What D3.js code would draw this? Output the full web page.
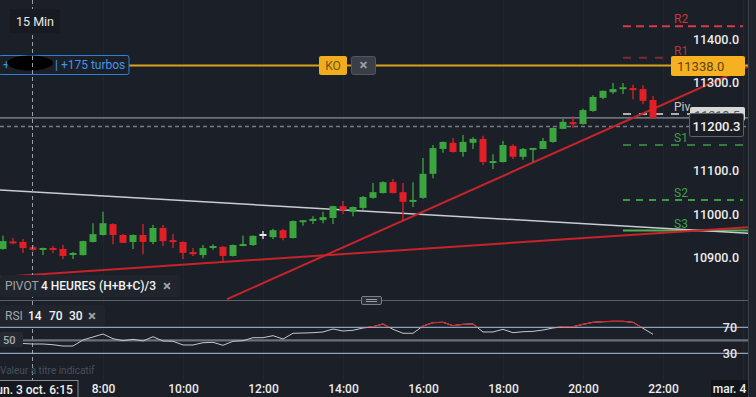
<!DOCTYPE html>
<html><head><meta charset="utf-8">
<script src="https://cdn.jsdelivr.net/npm/d3@7"></script>
<style>
html,body{margin:0;padding:0;background:#1b2028;overflow:hidden}
svg{display:block;font-family:Roboto,"Noto Sans",sans-serif}
</style></head>
<body>
<svg id="c" width="756" height="397"></svg>
<script>
// ---------- DATA ----------
const candleStart = "2022-10-03T05:30";
const candleMinutes = 15;
const open = [10920,10936,10936,10924,10918,10922,10920,10908,10906,10936,
10952,10977,10952,10936,10952,10936,10968,10939,10936,10913,
10906,10924,10925,10904,10927,10929,10952,10947,10963,10945,
10983,10984,10986,10991,11018,11005,11014,11037,11048,11073,
11050,11029,11037,11092,11149,11163,11142,11163,11172,11118,
11119,11156,11131,11148,11149,11165,11195,11209,11206,11236,
11266,11279,11287,11287,11286,11261];
const high = [10950,10945,10943,10929,10923,10927,10929,10913,10939,10979,
11005,10979,10954,10953,10977,10975,10975,10954,10937,10922,
10929,10931,10926,10930,10950,10951,10961,10966,10966,10985,
10986,10995,11005,11019,11030,11017,11041,11071,11075,11080,
11071,11073,11128,11158,11166,11174,11181,11176,11179,11137,
11167,11160,11151,11151,11174,11198,11218,11224,11241,11272,
11283,11300,11300,11296,11295,11270];
const low = [10918,10931,10911,10915,10906,10911,10897,10897,10905,10935,
10951,10931,10933,10920,10908,10931,10927,10922,10897,10904,
10899,10918,10888,10903,10926,10927,10943,10943,10940,10944,
10973,10977,10979,10977,11000,10995,11009,11035,11047,11047,
10984,11016,11035,11082,11140,11141,11131,11149,11112,11103,
11118,11126,11124,11119,11148,11163,11194,11197,11205,11234,
11263,11275,11275,11263,11252,11218];
const close = [10938,10934,10922,10918,10922,10918,10904,10909,10938,10954,
10979,10952,10934,10952,10936,10968,10938,10937,10911,10908,
10922,10925,10904,10929,10931,10950,10952,10963,10945,10984,
10984,10989,10993,11018,11009,11016,11039,11050,11073,11048,
11028,11031,11092,11151,11165,11142,11165,11172,11119,11120,
11158,11131,11149,11150,11167,11197,11211,11207,11238,11268,
11282,11286,11289,11285,11259,11220];
const rsi = [45.4,45.8,45.1,44.3,44.3,43.2,41.2,41.2,50.5,55.1,
59.7,52.5,49.4,51.5,48.9,55.5,48.9,48.5,42.8,42.8,
46.3,46.9,42.3,48.5,49.4,54,54,57.1,52,60.8,
61.2,61.7,62.8,67.4,64.3,65.4,68.9,70.9,75.1,66.9,
60.8,60.8,72,77.1,77.7,72.5,74.6,75.1,62.8,62.8,
66.9,61.7,63.2,63.8,65.8,68.9,70.9,70.9,74.6,77.7,
78.6,79.2,79.2,77.7,68.5,59.2];
const priceTicks = [10900,11000,11100,11200,11300,11400];
const timeTicks = ["2022-10-03T08:00","2022-10-03T10:00","2022-10-03T12:00","2022-10-03T14:00","2022-10-03T16:00","2022-10-03T18:00","2022-10-03T20:00","2022-10-03T22:00"];
const rsiLevels = [70,50,30];
const pivotNames = ["R2","R1","Piv","S1","S2","S3"];
const pivotValues = [11430,11358,11229,11158,11032,10962];
const pivotStart = "2022-10-03T21:00", pivotEnd = "2022-10-04T00:00";
const trendWhite = [["2022-10-03T05:25",11055],["2022-10-04T00:08",10956]];
const trendRedFlat = [["2022-10-03T05:25",10856],["2022-10-04T00:08",10970]];
const trendRedSteep = [["2022-10-03T11:06",10805],["2022-10-04T00:08",11338]];
const koLevel = 11338.0;
const crossPrice = 11200.3;
const crossTime = "2022-10-03T06:15";
const pivLabelValue = 11218.5;

// ---------- SCALES ----------
const svg = d3.select("#c");
const T = s => new Date(s);
const t0 = T(candleStart);
const times = open.map((_, i) => new Date(t0.getTime() + i*candleMinutes*60000));
const x = d3.scaleTime().domain([T("2022-10-03T05:30"), T("2022-10-03T22:00")]).range([3, 663]);
const y = d3.scaleLinear().domain([10900, 11400]).range([257.7, 39.3]);
const yr = d3.scaleLinear().domain([30, 70]).range([353.3, 327.3]);
const W = 748;
const bg = "#1b2028";

svg.append("rect").attr("width",756).attr("height",397).attr("fill",bg);

const defs = svg.append("defs");
defs.append("clipPath").attr("id","main").append("rect").attr("x",0).attr("y",0).attr("width",W).attr("height",300);
defs.append("clipPath").attr("id","ob").append("rect").attr("x",0).attr("y",300).attr("width",W).attr("height",yr(70)-300);

// faint vertical grid
svg.append("g").selectAll("line").data(timeTicks).join("line")
  .attr("x1",d=>x(T(d))+0.5).attr("x2",d=>x(T(d))+0.5).attr("y1",0).attr("y2",380)
  .attr("stroke","#20252e").attr("stroke-width",1);

// right strip
svg.append("rect").attr("x",W).attr("y",0).attr("width",756-W).attr("height",397).attr("fill","#1f242c");
svg.append("line").attr("x1",W+0.5).attr("x2",W+0.5).attr("y1",0).attr("y2",397).attr("stroke","#3a4048");
svg.append("line").attr("x1",743.5).attr("x2",743.5).attr("y1",0).attr("y2",380).attr("stroke","#232830");

const main = svg.append("g").attr("clip-path","url(#main)");

// current price line & crosshair horizontal
main.append("line").attr("x1",0).attr("x2",W).attr("y1",y(close[close.length-1])).attr("y2",y(close[close.length-1]))
  .attr("stroke","#8a8f96").attr("stroke-width",1.2);
main.append("line").attr("x1",0).attr("x2",W).attr("y1",y(crossPrice)).attr("y2",y(crossPrice))
  .attr("stroke","#767b83").attr("stroke-width",1.5).attr("stroke-dasharray","4,3");

// pivot levels
const pivStyle = {
  R2:{c:"#d83a40",d:"8,5",w:2,lc:"#c5363c"},
  R1:{c:"#7a2b31",d:"8,8",w:2,lc:"#b8343a"},
  Piv:{c:"#e0e0e0",d:"8,8",w:1.5,lc:"#c8c8c8"},
  S1:{c:"#3d9b47",d:"8,8",w:1.5,lc:"#3f9f49"},
  S2:{c:"#3d9b47",d:"7,6",w:2,lc:"#3f9f49"},
  S3:{c:"#4caf50",d:null,w:2,lc:"#3f9f49"}
};
pivotNames.forEach((n,i)=>{
  const st = pivStyle[n];
  const ln = main.append("line").attr("x1",x(T(pivotStart))).attr("x2",n==="S3"?W:x(T(pivotEnd)))
    .attr("y1",y(pivotValues[i])).attr("y2",y(pivotValues[i]))
    .attr("stroke",st.c).attr("stroke-width",st.w);
  if (st.d) ln.attr("stroke-dasharray",st.d);
  main.append("text").attr("x",674).attr("y",y(pivotValues[i])-3).text(n)
    .attr("fill",st.lc).attr("font-size",12);
});

// trend lines
const tl = (pts, col, w) => main.append("line")
  .attr("x1",x(T(pts[0][0]))).attr("y1",y(pts[0][1]))
  .attr("x2",x(T(pts[1][0]))).attr("y2",y(pts[1][1]))
  .attr("stroke",col).attr("stroke-width",w);
tl(trendWhite,"#c9ccd0",1.5);
tl(trendRedFlat,"#c8232a",2);
tl(trendRedSteep,"#c8232a",2);

// candles
const candles = main.append("g");
times.forEach((t,i)=>{
  const col = close[i]>open[i] ? "#3ba53f" : (close[i]<open[i] ? "#e01f26" : "#e8e8e8");
  const cx = x(t);
  candles.append("line").attr("x1",cx).attr("x2",cx).attr("y1",y(high[i])).attr("y2",y(low[i]))
    .attr("stroke",col).attr("stroke-width",1.3);
  const top = y(Math.max(open[i],close[i])), bot = y(Math.min(open[i],close[i]));
  const h = Math.max(bot-top, 2);
  candles.append("rect").attr("x",cx-3.5).attr("width",7).attr("y",(top+bot)/2-h/2).attr("height",h).attr("fill",col);
});

// KO line
main.append("line").attr("x1",0).attr("x2",W).attr("y1",y(koLevel)-0.8).attr("y2",y(koLevel)-0.8)
  .attr("stroke","#d9a21c").attr("stroke-width",2);

// blue position label
svg.append("rect").attr("x",-1).attr("y",55.5).attr("width",130).attr("height",19).attr("fill",bg)
  .attr("stroke","#2f7fd6").attr("stroke-width",1).attr("rx",2);
svg.append("text").attr("x",3).attr("y",69).text("+").attr("fill","#4394e6").attr("font-size",12);
svg.append("ellipse").attr("cx",30).attr("cy",63).attr("rx",23).attr("ry",7.5).attr("fill","#000");
svg.append("text").attr("x",55).attr("y",69).text("| +175 turbos").attr("fill","#4394e6").attr("font-size",12);

// KO & close buttons
svg.append("rect").attr("x",319).attr("y",56).attr("width",28).attr("height",19).attr("rx",2).attr("fill","#f2ad1c");
svg.append("text").attr("x",333).attr("y",70).attr("text-anchor","middle").text("KO").attr("fill","#6e5518").attr("font-size",12);
svg.append("rect").attr("x",351.5).attr("y",56.5).attr("width",24).attr("height",18).attr("rx",2).attr("fill","#3a3f47").attr("stroke","#50565e");
svg.append("text").attr("x",363.5).attr("y",70).attr("text-anchor","middle").text("×").attr("fill","#9aa0a8").attr("font-size",15).attr("font-weight",700);

// crosshair vertical
svg.append("line").attr("x1",x(T(crossTime))-0.5).attr("x2",x(T(crossTime))-0.5).attr("y1",0).attr("y2",380)
  .attr("stroke","#9aa0a8").attr("stroke-width",1).attr("stroke-dasharray","4,3");

// 15 Min
svg.append("rect").attr("x",10).attr("y",9).attr("width",50).attr("height",24).attr("fill","#171b21");
svg.append("text").attr("x",35).attr("y",25.5).attr("text-anchor","middle").text("15 Min").attr("fill","#e8e8e8").attr("font-size",12.5);

// Y axis
const yAxis = svg.append("g").attr("transform","translate(740,0)")
  .call(d3.axisLeft(y).tickValues(priceTicks).tickSize(0).tickPadding(1).tickFormat(d3.format(".1f")));
yAxis.select(".domain").remove();
yAxis.selectAll("text").attr("fill","#ececec").attr("font-size",12.5).attr("font-weight",500).attr("font-family","Roboto,sans-serif");

// orange KO price label
svg.append("rect").attr("x",671).attr("y",56).attr("width",74).attr("height",20).attr("rx",2).attr("fill","#f5b120");
svg.append("text").attr("x",677).attr("y",70.5).text(d3.format(".1f")(koLevel)).attr("fill","#5c4415").attr("font-size",13);

// Piv label box + crosshair price box
svg.append("rect").attr("x",690).attr("y",107).attr("width",55).attr("height",14).attr("rx",2).attr("fill","#d6d8da");
svg.append("text").attr("x",717).attr("y",120).attr("text-anchor","middle").text(d3.format(".1f")(pivLabelValue)).attr("fill","#555").attr("font-size",12.5);
svg.append("rect").attr("x",689.5).attr("y",113.5).attr("width",54).attr("height",23).attr("rx",2).attr("fill","#1a1e24").attr("stroke","#5e636b");
svg.append("text").attr("x",716.5).attr("y",y(crossPrice)+4.5).attr("text-anchor","middle").text(d3.format(".1f")(crossPrice))
  .attr("fill","#f0f0f0").attr("font-size",13).attr("font-weight",500);

// PIVOT legend
svg.append("rect").attr("x",0).attr("y",275).attr("width",180).attr("height",22).attr("rx",3).attr("fill","#20252d");
const lg1 = svg.append("g").attr("font-size",12);
lg1.append("text").attr("x",5).attr("y",290).text("PIVOT").attr("fill","#a0a4aa");
lg1.append("text").attr("x",41).attr("y",290).text("4 HEURES").attr("fill","#f2f2f2").attr("font-weight",500);
lg1.append("text").attr("x",99).attr("y",290).text("(H+B+C)/3").attr("fill","#f2f2f2").attr("font-weight",500);
lg1.append("text").attr("x",163).attr("y",291).text("×").attr("fill","#a0a4aa").attr("font-size",15).attr("font-weight",700);

// separator
svg.append("line").attr("x1",0).attr("x2",W).attr("y1",300.5).attr("y2",300.5).attr("stroke","#5b6068");
svg.append("rect").attr("x",361.5).attr("y",296.5).attr("width",20).attr("height",8).attr("rx",1.5).attr("fill","#2a2f37").attr("stroke","#7a7f87");
svg.append("line").attr("x1",366).attr("x2",377).attr("y1",299.5).attr("y2",299.5).attr("stroke","#9aa0a8");
svg.append("line").attr("x1",366).attr("x2",377).attr("y1",301.5).attr("y2",301.5).attr("stroke","#9aa0a8");

// RSI levels
rsiLevels.forEach(v=>{
  svg.append("line").attr("x1",0).attr("x2",W).attr("y1",yr(v)).attr("y2",yr(v))
    .attr("stroke", v===50 ? "#6c7078" : "#a9c4e0").attr("stroke-width", v===50 ? 2.2 : 1);
});
svg.append("g").selectAll("text").data(rsiLevels.filter(v=>v!==50)).join("text")
  .attr("x",737).attr("y",v=>yr(v)+4.5).attr("text-anchor","end").text(v=>v)
  .attr("fill","#e8e8e8").attr("font-size",12.5).attr("font-weight",500);

// RSI line
const rl = d3.line().x((d,i)=>x(times[i])).y(d=>yr(d));
svg.append("path").attr("d",rl(rsi)).attr("fill","none").attr("stroke","#c4c7cc").attr("stroke-width",1);
svg.append("path").attr("d",rl(rsi)).attr("fill","none").attr("stroke","#d0262c").attr("stroke-width",1.2).attr("clip-path","url(#ob)");

// 50 label box
svg.append("rect").attr("x",0).attr("y",332).attr("width",23).attr("height",15).attr("rx",2).attr("fill","#252a32");
svg.append("text").attr("x",3).attr("y",343.5).text("50").attr("fill","#a8acb2").attr("font-size",11).attr("font-weight",500);

// RSI legend
svg.append("rect").attr("x",0).attr("y",305).attr("width",105).attr("height",21).attr("rx",3).attr("fill","#20252d");
const lg2 = svg.append("g").attr("font-size",12);
lg2.append("text").attr("x",5).attr("y",320).text("RSI").attr("fill","#a0a4aa");
lg2.append("text").attr("x",28).attr("y",320).text("14").attr("fill","#f2f2f2").attr("font-weight",500);
lg2.append("text").attr("x",49).attr("y",320).text("70").attr("fill","#f2f2f2").attr("font-weight",500);
lg2.append("text").attr("x",69).attr("y",320).text("30").attr("fill","#f2f2f2").attr("font-weight",500);
lg2.append("text").attr("x",88).attr("y",321).text("×").attr("fill","#a0a4aa").attr("font-size",15).attr("font-weight",700);

// footnote
svg.append("text").attr("x",0).attr("y",374).text("Valeur à titre indicatif").attr("fill","#4a4f57").attr("font-size",10);

// X axis
const xAxis = svg.append("g").attr("transform","translate(0,382)")
  .call(d3.axisBottom(x).tickValues(timeTicks.map(T)).tickSize(0).tickPadding(2).tickFormat(d=>d.getHours()+":00"));
xAxis.select(".domain").remove();
xAxis.selectAll("text").attr("fill","#ececec").attr("font-size",12).attr("font-weight",500).attr("font-family","Roboto,sans-serif");

// crosshair time label
svg.append("rect").attr("x",-10).attr("y",380.5).attr("width",88).attr("height",17).attr("fill","#15191f").attr("stroke","#8a8f96");
svg.append("text").attr("x",x(T(crossTime))).attr("y",393.5).attr("text-anchor","middle").text("lun. 3 oct. 6:15")
  .attr("fill","#f0f0f0").attr("font-size",12).attr("font-weight",500);
// next day label
svg.append("rect").attr("x",711).attr("y",380).attr("width",37).attr("height",17).attr("fill","#111418");
svg.append("text").attr("x",729.5).attr("y",393).attr("text-anchor","middle").text("mar. 4")
  .attr("fill","#f0f0f0").attr("font-size",12).attr("font-weight",500);
</script>
</body></html>
